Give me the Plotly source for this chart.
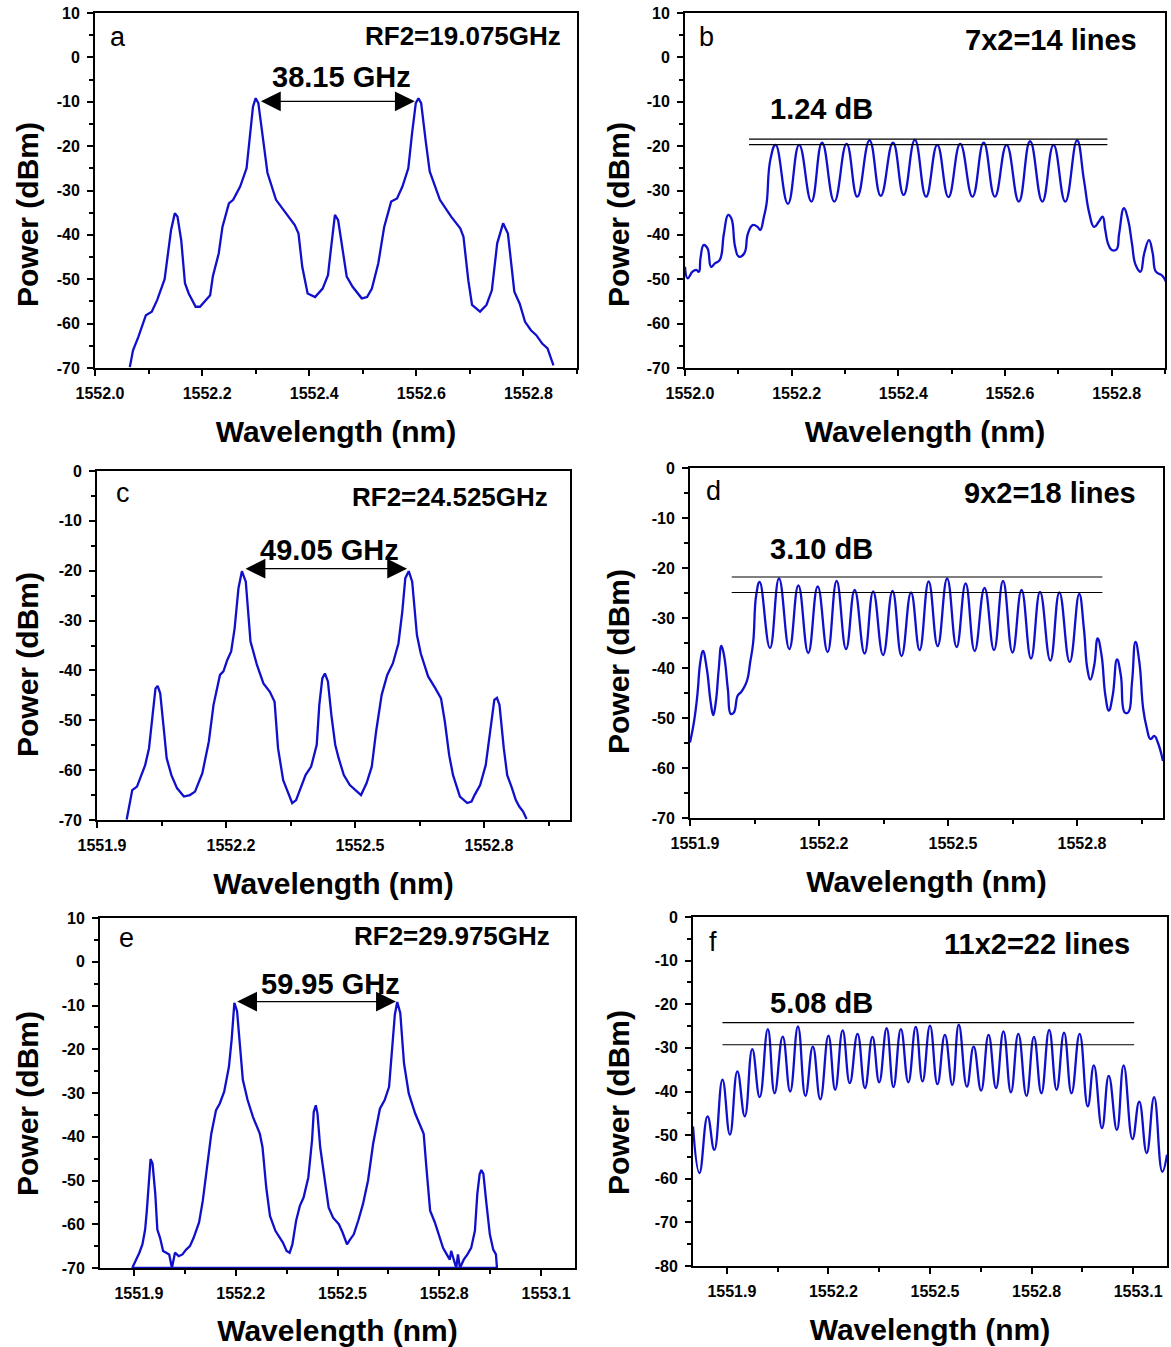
import plotly.graph_objects as go

W, H = 1171, 1347
BLUE = "#1010cc"
FONT = "Liberation Sans"

# ---------------- data ----------------
# (a) RF2 = 19.075 GHz
a_wl = [1552.065, 1552.071, 1552.081, 1552.095, 1552.106, 1552.116, 1552.130, 1552.137, 1552.142, 1552.149,
        1552.154, 1552.161, 1552.168, 1552.175, 1552.188, 1552.196, 1552.210, 1552.215, 1552.220, 1552.231,
        1552.238, 1552.250, 1552.258, 1552.271, 1552.283, 1552.290, 1552.295, 1552.300, 1552.305, 1552.314,
        1552.322, 1552.338, 1552.356, 1552.373, 1552.380, 1552.387, 1552.397, 1552.411, 1552.425, 1552.435,
        1552.441, 1552.448, 1552.454, 1552.463, 1552.470, 1552.481, 1552.498, 1552.508, 1552.517, 1552.529,
        1552.540, 1552.553, 1552.564, 1552.574, 1552.585, 1552.592, 1552.599, 1552.604, 1552.609, 1552.618,
        1552.625, 1552.644, 1552.665, 1552.682, 1552.688, 1552.697, 1552.704, 1552.719, 1552.731, 1552.741,
        1552.751, 1552.762, 1552.771, 1552.783, 1552.793, 1552.803, 1552.814, 1552.824, 1552.835, 1552.845,
        1552.856]
a_pw = [-69.8, -66.0, -63.0, -58.1, -57.3, -54.7, -50.0, -44.2, -38.9, -35.1,
        -35.9, -41.2, -50.9, -53.2, -56.2, -56.2, -54.3, -53.6, -49.4, -44.2,
        -38.2, -32.9, -32.1, -29.1, -25.0, -17.1, -11.1, -9.2, -10.3, -18.6,
        -26.0, -32.1, -35.1, -37.8, -39.7, -47.2, -53.2, -54.0, -52.1, -49.1,
        -42.7, -35.5, -36.7, -43.4, -49.4, -51.7, -54.3, -54.0, -52.1, -46.4,
        -38.2, -32.5, -31.8, -29.1, -25.0, -17.1, -10.3, -9.2, -10.3, -19.3,
        -25.7, -32.1, -35.9, -38.5, -40.4, -50.2, -55.8, -57.3, -55.8, -52.5,
        -41.9, -37.4, -39.7, -52.8, -55.5, -59.6, -61.5, -62.6, -64.5, -65.6,
        -69.4]

# (b) 7x2 = 14 lines
b_wl = [1552.000, 1552.005, 1552.014, 1552.021, 1552.026, 1552.029, 1552.035, 1552.042, 1552.049, 1552.056,
        1552.065, 1552.073, 1552.081, 1552.087, 1552.094, 1552.101, 1552.111, 1552.118, 1552.127, 1552.136,
        1552.141, 1552.148, 1552.153, 1552.160,
        1552.170, 1552.193, 1552.214, 1552.237, 1552.257, 1552.280, 1552.303, 1552.323, 1552.346, 1552.367,
        1552.390, 1552.410, 1552.431, 1552.452, 1552.473, 1552.494, 1552.516, 1552.539, 1552.560, 1552.581,
        1552.603, 1552.626, 1552.647, 1552.670, 1552.691, 1552.713, 1552.735,
        1552.748, 1552.758, 1552.767, 1552.776, 1552.783, 1552.788, 1552.793, 1552.800, 1552.809, 1552.814,
        1552.823, 1552.831, 1552.838, 1552.845, 1552.854, 1552.861, 1552.870, 1552.877, 1552.883, 1552.894,
        1552.902]
b_pw = [-47.2, -49.8, -48.3, -47.9, -48.3, -45.3, -42.3, -43.0, -47.2, -46.4,
        -45.7, -39.7, -35.5, -36.3, -42.7, -44.9, -44.2, -39.7, -37.8, -38.2,
        -38.9, -35.9, -32.9, -23.1,
        -19.7, -33.0, -19.7, -32.5, -19.2, -32.5, -19.5, -31.4, -18.7, -31.2,
        -19.2, -31.0, -18.6, -31.4, -19.7, -31.5, -19.5, -31.4, -19.2, -31.4,
        -19.7, -32.5, -18.9, -32.5, -19.7, -32.5, -18.7,
        -27.6, -35.1, -38.2, -37.0, -35.9, -38.9, -41.9, -43.4, -43.3, -39.7,
        -34.0, -36.7, -41.9, -46.8, -48.3, -44.2, -41.2, -44.2, -48.3, -49.1,
        -50.6]
b_flat_wl = [1552.120, 1552.792]
b_flat_levels = [-18.4, -19.64]

# (c) RF2 = 24.525 GHz
c_wl = [1551.969, 1551.975, 1551.982, 1551.993, 1552.004, 1552.012, 1552.021, 1552.030, 1552.036, 1552.041,
        1552.047, 1552.056, 1552.062, 1552.073, 1552.086, 1552.102, 1552.116, 1552.128, 1552.145, 1552.160,
        1552.171, 1552.186, 1552.194, 1552.203, 1552.212, 1552.220, 1552.229, 1552.237, 1552.246, 1552.257,
        1552.272, 1552.287, 1552.302, 1552.313, 1552.321, 1552.333, 1552.344, 1552.354, 1552.363, 1552.376,
        1552.385, 1552.398, 1552.411, 1552.417, 1552.424, 1552.430, 1552.437, 1552.445, 1552.454, 1552.462,
        1552.474, 1552.488, 1552.506, 1552.514, 1552.527, 1552.539, 1552.549, 1552.562, 1552.575, 1552.588,
        1552.601, 1552.610, 1552.617, 1552.625, 1552.633, 1552.644, 1552.653, 1552.670, 1552.687, 1552.700,
        1552.709, 1552.719, 1552.728, 1552.744, 1552.761, 1552.771, 1552.778, 1552.791, 1552.804, 1552.817,
        1552.824, 1552.830, 1552.836, 1552.846, 1552.854, 1552.865, 1552.874, 1552.882, 1552.891, 1552.899]
c_pw = [-69.9, -67.0, -64.0, -63.3, -61.0, -59.0, -55.6, -48.9, -43.6, -43.1,
        -44.6, -52.3, -57.6, -61.0, -63.6, -65.3, -65.0, -64.3, -60.6, -54.3,
        -46.9, -40.9, -40.2, -37.9, -36.2, -31.6, -23.5, -20.1, -22.2, -34.2,
        -38.9, -42.6, -44.3, -46.3, -55.6, -62.0, -64.3, -66.6, -66.0, -63.0,
        -61.0, -59.3, -54.9, -46.9, -41.6, -40.6, -42.2, -48.9, -54.9, -57.6,
        -61.0, -63.0, -64.3, -65.0, -62.6, -59.3, -52.3, -44.9, -40.9, -38.6,
        -34.6, -28.2, -21.5, -20.1, -22.2, -32.9, -36.6, -41.2, -43.6, -45.6,
        -50.3, -57.0, -61.0, -65.3, -66.6, -66.3, -65.0, -63.0, -59.0, -50.9,
        -45.9, -45.5, -46.9, -55.6, -61.0, -63.6, -66.0, -67.3, -68.3, -69.8]

# (d) 9x2 = 18 lines
d_wl = [1551.900, 1551.909, 1551.917, 1551.924, 1551.930, 1551.939, 1551.948, 1551.954, 1551.960, 1551.967,
        1551.973, 1551.979, 1551.988, 1551.995, 1552.002, 1552.011, 1552.019, 1552.028, 1552.034, 1552.040,
        1552.047, 1552.054,
        1552.062, 1552.086, 1552.107, 1552.131, 1552.152, 1552.175, 1552.197, 1552.220, 1552.241, 1552.263,
        1552.283, 1552.306, 1552.326, 1552.349, 1552.371, 1552.392, 1552.414, 1552.434, 1552.455, 1552.476,
        1552.498, 1552.520, 1552.541, 1552.562, 1552.585, 1552.607, 1552.628, 1552.650, 1552.671, 1552.693,
        1552.714, 1552.738, 1552.759, 1552.783, 1552.805,
        1552.816, 1552.824, 1552.831, 1552.840, 1552.848, 1552.857, 1552.866, 1552.874, 1552.883, 1552.893,
        1552.902, 1552.911, 1552.919, 1552.928, 1552.936, 1552.945, 1552.954, 1552.962, 1552.971, 1552.980,
        1552.988, 1553.000]
d_pw = [-54.9, -50.9, -45.5, -38.8, -36.6, -40.1, -46.8, -49.4, -46.8, -40.1,
        -35.6, -37.4, -44.2, -49.2, -48.9, -45.5, -44.8, -43.5, -42.1, -38.8,
        -34.8, -25.4,
        -22.8, -36.0, -22.1, -36.2, -23.5, -37.0, -23.7, -36.8, -22.6, -36.2,
        -24.4, -37.1, -24.7, -37.4, -24.6, -37.6, -24.9, -36.4, -22.7, -35.6,
        -22.1, -35.8, -23.1, -36.6, -24.0, -36.4, -22.6, -36.9, -24.4, -38.1,
        -24.8, -38.5, -24.9, -38.8, -25.2,
        -32.1, -40.1, -42.3, -39.5, -34.1, -37.4, -45.5, -48.5, -45.5, -38.3,
        -41.5, -48.9, -48.9, -42.8, -34.8, -38.8, -48.2, -51.9, -54.2, -53.6,
        -54.9, -58.6]
d_flat_wl = [1551.997, 1552.859]
d_flat_levels = [-21.8, -24.9]

# (e) RF2 = 29.975 GHz
e_wl = [1551.895, 1551.905, 1551.916, 1551.925, 1551.933, 1551.938, 1551.944, 1551.949, 1551.955, 1551.963,
        1551.969, 1551.977, 1551.986, 1551.997, 1552.004, 1552.012, 1552.021, 1552.032, 1552.043, 1552.054,
        1552.065, 1552.076, 1552.092, 1552.103, 1552.114, 1552.128, 1552.142, 1552.153, 1552.166, 1552.180,
        1552.188, 1552.196, 1552.204, 1552.213, 1552.221, 1552.235, 1552.251, 1552.271, 1552.279, 1552.290,
        1552.301, 1552.317, 1552.330, 1552.339, 1552.350, 1552.359, 1552.367, 1552.378, 1552.389, 1552.400,
        1552.414, 1552.425, 1552.430, 1552.436, 1552.441, 1552.449, 1552.460, 1552.474, 1552.487, 1552.504,
        1552.515, 1552.528, 1552.537, 1552.548, 1552.561, 1552.575, 1552.590, 1552.605, 1552.625, 1552.639,
        1552.652, 1552.660, 1552.669, 1552.676, 1552.685, 1552.696, 1552.710, 1552.729, 1552.745, 1552.754,
        1552.762, 1552.773, 1552.787, 1552.798, 1552.811, 1552.822, 1552.831, 1552.835, 1552.842, 1552.850,
        1552.855, 1552.861, 1552.872, 1552.883, 1552.894, 1552.905, 1552.912, 1552.919, 1552.924, 1552.930,
        1552.938, 1552.949, 1552.959, 1552.967, 1552.970]
e_pw = [-70.0, -68.4, -66.5, -64.6, -61.2, -56.9, -49.3, -45.1, -46.2, -53.1,
        -61.2, -63.1, -66.1, -66.5, -66.9, -70.0, -66.5, -67.3, -66.9, -65.8,
        -65.0, -63.1, -59.6, -54.6, -48.1, -39.3, -33.9, -32.4, -29.7, -24.0,
        -17.8, -9.4, -11.3, -20.1, -27.0, -31.6, -35.5, -39.3, -42.4, -51.6,
        -58.1, -61.5, -63.1, -64.2, -66.1, -66.5, -64.6, -59.2, -55.8, -53.9,
        -49.3, -40.8, -34.3, -32.8, -34.7, -42.4, -48.5, -56.2, -58.5, -60.0,
        -61.9, -64.6, -63.5, -62.3, -59.2, -55.4, -50.0, -41.6, -33.6, -31.6,
        -28.6, -21.7, -12.1, -9.2, -11.7, -23.2, -30.1, -34.7, -37.8, -39.3,
        -47.0, -56.9, -59.6, -62.3, -65.4, -66.9, -68.1, -66.1, -67.7, -70.0,
        -66.9, -70.0, -68.1, -66.9, -65.4, -61.5, -53.1, -48.5, -47.6, -48.5,
        -54.6, -62.3, -65.8, -66.9, -70.0]
e_floor_wl = [1551.895, 1552.970]
e_floor_pw = [-70.0, -70.0]

# (f) 11x2 = 22 lines
f_wl = [1551.800, 1551.819, 1551.843, 1551.863, 1551.887, 1551.909, 1551.931, 1551.953, 1551.975, 1551.997,
        1552.021, 1552.041, 1552.065, 1552.087, 1552.110, 1552.132, 1552.154, 1552.176, 1552.200, 1552.220,
        1552.242, 1552.263, 1552.286, 1552.308, 1552.330, 1552.350, 1552.372, 1552.392, 1552.414, 1552.436,
        1552.458, 1552.478, 1552.500, 1552.522, 1552.544, 1552.566, 1552.585, 1552.609, 1552.629, 1552.651,
        1552.673, 1552.695, 1552.717, 1552.739, 1552.761, 1552.785, 1552.807, 1552.829, 1552.852, 1552.874,
        1552.896, 1552.918, 1552.942, 1552.966, 1552.984, 1553.008, 1553.028, 1553.052, 1553.072, 1553.098,
        1553.118, 1553.140, 1553.162, 1553.186, 1553.200]
f_pw = [-48.0, -58.7, -45.7, -53.4, -37.3, -49.9, -35.4, -45.7, -30.3, -41.3,
        -25.7, -40.4, -27.4, -40.0, -25.1, -41.0, -29.7, -41.8, -27.2, -39.6,
        -26.0, -38.1, -26.8, -39.2, -27.5, -37.9, -25.5, -39.0, -25.7, -37.9,
        -25.2, -37.7, -24.9, -38.3, -27.0, -38.5, -24.7, -38.9, -29.7, -39.8,
        -27.0, -39.2, -26.2, -40.2, -26.8, -41.0, -27.5, -40.4, -25.9, -39.6,
        -26.5, -40.4, -26.8, -43.4, -34.0, -48.4, -36.4, -48.8, -34.0, -50.9,
        -42.3, -54.1, -41.3, -58.4, -54.5]
f_flat_wl = [1551.887, 1553.103]
f_flat_levels = [-24.2, -29.28]

# separation arrows (peak wavelengths) and arrow level
a_arrow_wl, a_arrow_pw = [1552.307, 1552.597], -9.9
c_arrow_wl, c_arrow_pw = [1552.242, 1552.621], -19.6
e_arrow_wl, e_arrow_pw = [1552.200, 1552.672], -9.1

# y tick values / labels (hyphen minus as in the original)
y_ticks_10 = [10, 0, -10, -20, -30, -40, -50, -60, -70]
y_labels_10 = ["10", "0", "-10", "-20", "-30", "-40", "-50", "-60", "-70"]
y_ticks_0 = [0, -10, -20, -30, -40, -50, -60, -70]
y_labels_0 = ["0", "-10", "-20", "-30", "-40", "-50", "-60", "-70"]
y_ticks_f = [0, -10, -20, -30, -40, -50, -60, -70, -80]
y_labels_f = ["0", "-10", "-20", "-30", "-40", "-50", "-60", "-70", "-80"]

# ---------------- figure ----------------
def px_dom_x(x0, x1):
    return [x0 / W, x1 / W]

def px_dom_y(y0, y1):
    return [1 - y1 / H, 1 - y0 / H]

panels = [
    # id, x-domain px, y-domain px, xrange, yrange, xdtick, xtick0, yticks, ylabels, ytitle centre px
    ("1", (95, 577), (13, 368), [1552.0, 1552.9], [-70, 10], 0.2, 1552.0, y_ticks_10, y_labels_10, (27, 215)),
    ("2", (685, 1165), (13, 368), [1552.0, 1552.9], [-70, 10], 0.2, 1552.0, y_ticks_10, y_labels_10, (618, 215)),
    ("3", (97, 570), (471, 820), [1551.9, 1553.0], [-70, 0], 0.3, 1551.9, y_ticks_0, y_labels_0, (27, 665)),
    ("4", (690, 1163), (468, 818), [1551.9, 1553.0], [-70, 0], 0.3, 1551.9, y_ticks_0, y_labels_0, (618, 662)),
    ("5", (100, 575), (918, 1268), [1551.8, 1553.2], [-70, 10], 0.3, 1551.9, y_ticks_10, y_labels_10, (27, 1104)),
    ("6", (693, 1167), (917, 1266), [1551.8, 1553.2], [-80, 0], 0.3, 1551.9, y_ticks_f, y_labels_f, (618, 1103)),
]

fig = go.Figure()

series = [(a_wl, a_pw, "linear"), (b_wl, b_pw, "spline"), (c_wl, c_pw, "linear"),
          (d_wl, d_pw, "spline"), (e_wl, e_pw, "linear"), (f_wl, f_pw, "spline")]

for i, (xs, ys, shape) in enumerate(series):
    n = "" if i == 0 else str(i + 1)
    fig.add_trace(go.Scatter(x=xs, y=ys, mode="lines", xaxis="x" + n, yaxis="y" + n,
                             line=dict(color=BLUE, width=2.3, shape=shape, smoothing=1.3),
                             showlegend=False, hoverinfo="x+y"))
fig.add_trace(go.Scatter(x=e_floor_wl, y=e_floor_pw, mode="lines", xaxis="x5", yaxis="y5",
                         line=dict(color=BLUE, width=2.3), showlegend=False))

tickfont = dict(family=FONT, size=16, color="black", weight="bold")
titlefont = dict(family=FONT, size=30, color="black", weight="bold")

layout = dict(width=W, height=H, margin=dict(l=0, r=0, t=0, b=0),
              paper_bgcolor="white", plot_bgcolor="white", showlegend=False)

def P(px, py):
    return px / W, 1 - py / H

for (n, xd, yd, xr, yr, xdt, xt0, yv, yl, ytc) in panels:
    k = "" if n == "1" else n
    layout["xaxis" + k] = dict(
        domain=px_dom_x(*xd), range=xr, anchor="y" + k, tick0=xt0, dtick=xdt, tickformat=".1f",
        showline=True, linecolor="black", linewidth=2, mirror=True,
        ticks="outside", ticklen=6, tickwidth=2, tickcolor="black",
        minor=dict(ticks="outside", ticklen=4, tickwidth=2, tickcolor="black", dtick=xdt / 2, tick0=xt0),
        showgrid=False, zeroline=False, tickfont=tickfont, ticklabelshift=5, ticklabelstandoff=4,
        title=dict(text="Wavelength (nm)", font=titlefont, standoff=20), automargin=False)
    layout["yaxis" + k] = dict(
        domain=px_dom_y(*yd), range=yr, anchor="x" + k, tickmode="array", tickvals=yv, ticktext=yl,
        showline=True, linecolor="black", linewidth=2, mirror=True,
        ticks="outside", ticklen=6, tickwidth=2, tickcolor="black",
        minor=dict(ticks="outside", ticklen=4, tickwidth=2, tickcolor="black", dtick=5, tick0=0),
        showgrid=False, zeroline=False, tickfont=tickfont, ticklabelstandoff=4, automargin=False)

fig.update_layout(**layout)

# y-axis titles (placed slightly below the axis centre, as in the original)
for p in panels:
    x, y = P(*p[9])
    fig.add_annotation(x=x, y=y, xref="paper", yref="paper", text="Power (dBm)", textangle=-90,
                       showarrow=False, xanchor="center", yanchor="middle", font=titlefont)

# flatness lines
for xs, levels, k in [(b_flat_wl, b_flat_levels, "2"), (d_flat_wl, d_flat_levels, "4"),
                      (f_flat_wl, f_flat_levels, "6")]:
    for lv in levels:
        fig.add_shape(type="line", xref="x" + k, yref="y" + k, x0=xs[0], x1=xs[1], y0=lv, y1=lv,
                      line=dict(color="black", width=1.2))

# double-headed arrows
for xs, lv, k in [(a_arrow_wl, a_arrow_pw, ""), (c_arrow_wl, c_arrow_pw, "3"), (e_arrow_wl, e_arrow_pw, "5")]:
    fig.add_annotation(x=xs[1], y=lv, ax=xs[0], ay=lv, xref="x" + k, yref="y" + k,
                       axref="x" + k, ayref="y" + k, text="", showarrow=True,
                       arrowhead=2, arrowside="end+start", arrowsize=3.3, arrowwidth=1.2,
                       arrowcolor="black", standoff=0, startstandoff=0)

texts = [
    # text, px, py, anchor, size, bold
    ("a", 118, 37, "center", 27, False),
    ("RF2=19.075GHz", 563, 36, "right", 26, True),
    ("38.15 GHz", 341, 77, "center", 29, True),
    ("b", 706, 37, "center", 27, False),
    ("7x2=14 lines", 1139, 40, "right", 29, True),
    ("1.24 dB", 822, 109, "center", 29, True),
    ("c", 123, 493, "center", 27, False),
    ("RF2=24.525GHz", 550, 497, "right", 26, True),
    ("49.05 GHz", 329, 550, "center", 29, True),
    ("d", 713, 491, "center", 27, False),
    ("9x2=18 lines", 1138, 493, "right", 29, True),
    ("3.10 dB", 822, 549, "center", 29, True),
    ("e", 126, 938, "center", 27, False),
    ("RF2=29.975GHz", 552, 936, "right", 26, True),
    ("59.95 GHz", 330, 984, "center", 29, True),
    ("f", 713, 942, "center", 27, False),
    ("11x2=22 lines", 1132, 944, "right", 29, True),
    ("5.08 dB", 822, 1003, "center", 29, True),
]
for t, px, py, anc, sz, bold in texts:
    x, y = P(px, py)
    fig.add_annotation(x=x, y=y, xref="paper", yref="paper", text=t, showarrow=False,
                       xanchor=anc, yanchor="middle",
                       font=dict(family=FONT, size=sz, color="black", weight="bold" if bold else "normal"))

fig.write_html("out.html", config={"displayModeBar": False},
               post_script="document.body.style.margin='0px';")
